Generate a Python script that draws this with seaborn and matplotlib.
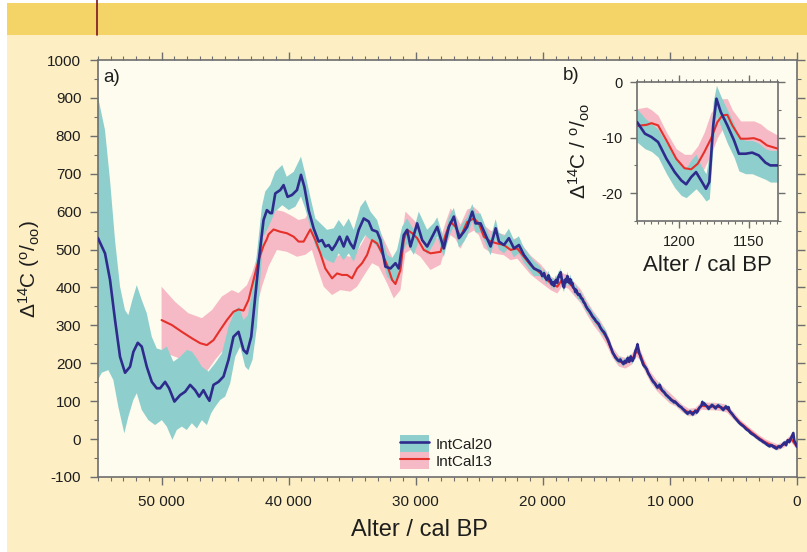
import numpy as np
import pandas as pd
import matplotlib
matplotlib.use("Agg")
import matplotlib.pyplot as plt
import seaborn as sns
from matplotlib.patches import Rectangle, Patch
from matplotlib.lines import Line2D
from matplotlib.ticker import MultipleLocator, FuncFormatter

# ================= panel a) =================
# IntCal20 curve, older part (age cal BP, Delta14C permil)
ic20_old_age = [55000, 54448, 54054, 53660, 53266, 52872, 52478, 52218, 51872, 51557,
                51163, 50768, 50374, 50114, 49720, 49405, 48987, 48538, 48144, 47750,
                47356, 47041, 46702, 46435, 46230, 45915, 45520, 45126, 44733, 44340,
                43945, 43550, 43287, 42944, 42628, 42313, 41974, 41710, 41446, 41312,
                41052, 40658, 40398, 40084, 39736, 39342, 39027, 38767, 38428, 38034,
                37640, 37372, 37112, 36852, 36584, 36324, 35986, 35670, 35402, 35142,
                34882, 34488, 34091, 33700, 33434, 33040, 32778, 32384, 31990, 31596,
                31336, 30942, 30676, 30414, 29888, 29494, 29100, 28570, 28310, 27790,
                27390, 27000, 26600, 26210, 25950, 25550, 25290, 24900, 24500, 24110,
                23710, 23450, 23060, 22670, 22270, 21880, 21490, 20700]
ic20_old_d14c = [530, 490, 420, 314, 217, 175, 191, 230, 254, 244,
                 191, 151, 134, 134, 151, 134, 99, 116, 125, 143,
                 129, 112, 129, 112, 101, 143, 151, 165, 209, 270,
                 283, 235, 226, 270, 376, 481, 578, 604, 596, 596,
                 648, 657, 670, 639, 644, 657, 697, 666, 604, 556,
                 521, 525, 508, 512, 499, 512, 534, 508, 534, 516,
                 503, 552, 582, 574, 552, 547, 525, 455, 450, 464,
                 450, 538, 552, 508, 569, 525, 508, 543, 560, 503,
                 560, 587, 530, 547, 560, 600, 569, 569, 538, 508,
                 556, 521, 512, 530, 503, 512, 486, 450]

# IntCal20 uncertainty band edges, older part
ic20_up_age = [55000, 54448, 54054, 53660, 53266, 52872, 52612, 52297, 51950, 51557,
               51163, 50768, 50374, 49980, 49586, 49066, 48538, 48010, 47616, 47222,
               46828, 46308, 45780, 45253, 44733, 44204, 43889, 43550, 43204, 42888,
               42494, 42100, 41840, 41446, 41052, 40500, 40150, 39600, 39027, 38700,
               38300, 37900, 37372, 36980, 36450, 36060, 35670, 35270, 34880, 34350,
               33960, 33560, 33040, 32650, 32250, 31860, 31470, 31070, 30680, 30150,
               29760, 29100, 28570, 28310, 27790, 27390, 27000, 26600, 26210, 25950,
               25550, 25290, 24900, 24500, 24110, 23710, 23450, 23060, 22670, 22270,
               21880, 21490, 20700]
ic20_up_val = [903, 815, 683, 525, 402, 340, 327, 367, 406, 367,
               332, 270, 239, 235, 244, 204, 217, 235, 231, 213,
               191, 178, 200, 226, 296, 340, 349, 314, 327, 385,
               490, 613, 653, 670, 705, 723, 692, 705, 745, 701,
               640, 582, 565, 552, 556, 578, 560, 582, 552, 613,
               631, 600, 578, 534, 486, 477, 499, 560, 582, 552,
               600, 552, 570, 585, 530, 585, 610, 555, 575, 585,
               620, 595, 595, 560, 530, 580, 545, 535, 555, 525,
               535, 505, 470]
ic20_dn_age = [55000, 54700, 54188, 53794, 53400, 52928, 52612, 52218, 51950, 51557,
               51036, 50508, 49980, 49586, 49146, 48798, 48404, 48010, 47616, 47222,
               46828, 46434, 46096, 45780, 45386, 44992, 44598, 44204, 43810, 43417,
               43156, 42841, 42494, 42234, 41974, 41580, 41052, 40500, 39990, 39470,
               39027, 38700, 38300, 37900, 37500, 36980, 36450, 36060, 35670, 35270,
               34880, 34350, 33960, 33560, 33040, 32650, 32250, 31860, 31470, 31070,
               30680, 30150, 29630, 29100, 28570, 28310, 27790, 27390, 27000, 26600,
               26210, 25950, 25550, 25290, 24900, 24500, 24110, 23710, 23450, 23060,
               22670, 22270, 21880, 21490, 20700]
ic20_dn_val = [156, 175, 182, 156, 85, 15, 59, 103, 121, 77,
               50, 37, 50, 33, -2, 24, 33, 24, 42, 28,
               50, 37, 68, 85, 103, 112, 147, 217, 244, 191,
               182, 209, 296, 420, 534, 560, 600, 617, 604, 613,
               640, 609, 560, 508, 486, 472, 464, 490, 472, 490,
               468, 516, 538, 525, 508, 481, 428, 415, 420, 490,
               516, 486, 534, 486, 515, 535, 480, 535, 560, 505,
               520, 535, 575, 545, 545, 515, 485, 530, 500, 490,
               505, 480, 490, 465, 430]

# IntCal20 curve, younger part
ic20_young_age = [20170, 20050, 19900, 19800, 19700, 19640, 19550, 19450, 19380, 19300,
                  19200, 19120, 19030, 18950, 18870, 18800, 18700, 18640, 18590, 18520,
                  18450, 18390, 18330, 18260, 18200, 18130, 18070, 17990, 17900, 17850,
                  17800, 17740, 17680, 17600, 17500, 17440, 17380, 17280, 17200, 17100,
                  17000, 16890, 16800, 16700, 16600, 16490, 16400, 16300, 16200, 16100,
                  16000, 15900, 15840, 15720, 15600, 15500, 15400, 15300, 15180, 15080,
                  15000, 14900, 14790, 14700, 14600, 14500, 14390, 14300, 14200, 14100,
                  14000, 13900, 13800, 13700, 13650, 13560, 13470, 13380, 13300, 13200,
                  13130, 13080, 13000, 12950, 12880, 12820, 12760, 12700, 12620, 12550,
                  12480, 12420, 12350, 12290, 12200, 12100, 12000, 11900, 11820, 11760,
                  11680, 11600, 11500, 11440, 11370, 11280, 11200, 11100, 10980, 10900,
                  10800, 10700, 10600, 10520, 10450, 10370, 10300, 10200, 10100, 10000,
                  9930, 9850, 9750, 9680, 9600, 9500, 9400, 9300, 9200, 9100,
                  9000, 8900, 8800, 8700, 8610, 8520, 8400, 8300, 8200, 8100,
                  8000, 7900, 7820, 7730, 7650, 7580, 7500, 7450, 7400, 7350,
                  7300, 7200, 7100, 7020, 6950, 6870, 6770, 6700, 6600, 6500,
                  6400, 6300, 6200, 6100, 5990, 5900, 5800, 5700, 5600, 5500,
                  5450, 5380, 5330, 5250, 5150, 5050, 4930, 4850, 4750, 4650,
                  4550, 4450, 4350, 4250, 4150, 4050, 3950, 3850, 3750, 3650,
                  3550, 3450, 3360, 3250, 3150, 3050, 2950, 2850, 2750, 2650,
                  2570, 2450, 2350, 2250, 2150, 2050, 1950, 1850, 1780, 1700,
                  1600, 1500, 1400, 1330, 1260, 1180, 1100, 1020, 950, 900,
                  850, 790, 730, 660, 600, 520, 450, 390, 340, 290,
                  240, 200, 150, 100, 50, 0]
ic20_young_d14c = [442, 430, 438, 426, 420, 424, 432, 418, 420, 408,
                   414, 404, 416, 420, 412, 426, 434, 428, 440, 424,
                   412, 404, 400, 416, 422, 414, 430, 418, 412, 422,
                   418, 408, 412, 400, 396, 388, 394, 384, 380, 382,
                   372, 370, 362, 358, 350, 344, 340, 336, 330, 324,
                   320, 316, 312, 308, 304, 296, 290, 286, 282, 276,
                   270, 264, 255, 246, 238, 228, 222, 216, 212, 208,
                   206, 210, 204, 200, 198, 206, 202, 210, 214, 204,
                   212, 218, 210, 206, 212, 214, 226, 234, 240, 250,
                   238, 228, 222, 214, 206, 196, 192, 188, 184, 178,
                   172, 168, 162, 158, 154, 150, 148, 142, 136, 140,
                   143, 134, 128, 126, 124, 120, 116, 114, 110, 108,
                   104, 102, 100, 97, 99, 95, 92, 88, 86, 84,
                   80, 77, 73, 70, 67, 70, 73, 68, 65, 70,
                   75, 70, 73, 80, 84, 86, 90, 98, 95, 92,
                   94, 90, 87, 83, 80, 84, 86, 90, 88, 84,
                   81, 86, 89, 86, 84, 80, 77, 82, 86, 82,
                   80, 84, 76, 72, 68, 64, 58, 55, 51, 47,
                   43, 40, 37, 35, 32, 28, 25, 23, 20, 16,
                   14, 12, 10, 7, 4, 2, -1, -3, -5, -8,
                   -9, -12, -15, -17, -19, -16, -17, -21, -20, -24,
                   -25, -20, -19, -22, -20, -16, -14, -10, -9, -14,
                   -16, -8, -3, -5, -8, -1, 4, 8, 12, 16,
                   2, -6, -8, -12, -16, -20]
# half width of the IntCal20 band in the younger part, per age range
ic20_sig_from = [15000, 10000, 5000, 0]
ic20_sig_val = [12, 8, 6, 5]

# IntCal13 curve
ic13_old_age = [50000, 49192, 48404, 47616, 46962, 46434, 45915, 45386, 44858, 44340,
                43945, 43550, 43156, 42762, 42368, 41974, 41710, 41580, 41186, 40658,
                40134, 39608, 39216, 38822, 38294, 37900, 37506, 37112, 36584, 36190,
                35796, 35402, 35010, 34616, 34222, 33826, 33434, 33040, 32646, 32252,
                31857, 31596, 31202, 30942, 30676, 30282, 29888, 29364, 28838, 28050,
                27660, 27260, 26870, 26470, 25950, 25420, 25030, 24640, 24110, 23580,
                23060, 22530, 22010, 21490, 20960, 20170]
ic13_old_d14c = [314, 301, 283, 266, 253, 248, 261, 288, 314, 336,
                 342, 339, 367, 420, 472, 510, 528, 540, 553, 547,
                 543, 534, 521, 521, 553, 525, 490, 450, 424, 437,
                 433, 433, 424, 450, 464, 486, 525, 516, 490, 459,
                 420, 409, 446, 525, 552, 543, 530, 499, 490, 494,
                 538, 573, 560, 534, 573, 582, 569, 534, 521, 516,
                 512, 499, 503, 481, 459, 437]
ic13_up_age = [50000, 48932, 47884, 46828, 46040, 45253, 44464, 43945, 43283, 42888,
               42368, 41840, 41580, 40920, 40400, 39870, 39216, 38700, 38300, 37770,
               37240, 36584, 35930, 35142, 34616, 34091, 33434, 32910, 32250, 31730,
               31200, 30810, 30414, 29630, 28838, 28050, 27660, 27260, 26870, 26470,
               25950, 25420, 25030, 24640, 24110, 23580, 23060, 22530, 22010, 21490,
               20960, 20170]
ic13_up_val = [402, 362, 332, 319, 340, 376, 393, 385, 406, 437,
               490, 550, 580, 604, 600, 591, 578, 582, 604, 560,
               508, 477, 486, 481, 494, 525, 574, 556, 508, 472,
               508, 600, 587, 560, 534, 528, 570, 608, 592, 566,
               605, 612, 600, 564, 550, 544, 540, 526, 530, 507,
               484, 461]
ic13_dn_age = [50000, 48932, 47884, 47096, 46434, 45780, 45126, 44464, 43676, 43156,
               42628, 42100, 41580, 40920, 40134, 39342, 38700, 38170, 37770, 37240,
               36584, 35930, 35142, 34616, 33960, 33434, 32910, 32250, 31730, 31200,
               30810, 30414, 29630, 28838, 28050, 27660, 27260, 26870, 26470, 25950,
               25420, 25030, 24640, 24110, 23580, 23060, 22530, 22010, 21490, 20960,
               20170]
ic13_dn_val = [231, 217, 204, 182, 178, 209, 235, 253, 266, 279,
               332, 402, 455, 499, 494, 481, 486, 499, 455, 402,
               380, 393, 389, 402, 437, 464, 455, 411, 371, 393,
               490, 499, 481, 446, 460, 505, 538, 528, 502, 540,
               550, 538, 504, 492, 488, 485, 472, 476, 455, 434,
               413]
ic13_young_age = [19380, 18860, 18500, 18000, 17500, 17000, 16500, 16000, 15500, 15000,
                  14500, 14000, 13500, 13000, 12600, 12300, 12000, 11500, 11000, 10500,
                  10000, 9500, 9000, 8500, 8000, 7500, 7000, 6500, 6000, 5500,
                  5000, 4500, 4000, 3500, 3000, 2500, 2000, 1500, 1000, 500, 0]
ic13_young_d14c = [411, 402, 420, 415, 395, 376, 345, 318, 296, 268,
                   228, 205, 200, 210, 232, 220, 195, 162, 140, 124,
                   108, 96, 80, 70, 72, 88, 86, 86, 84, 80,
                   62, 44, 30, 16, 3, -8, -16, -22, -14, 2, -20]
ic13_sig_from = [15000, 10000, 5000, 0]
ic13_sig_val = [18, 14, 10, 8]

# ================= panel b) =================
b20_age = [1230, 1224.3, 1219.6, 1214.9, 1208.9, 1203, 1198.3, 1194.8, 1191.2, 1187.7,
           1184.1, 1180.6, 1178.2, 1175.4, 1173.1, 1170, 1165.3, 1160.5, 1157, 1152.2,
           1147.5, 1142.8, 1138, 1134.5, 1129]
b20_d14c = [-7.2, -9.3, -9.9, -10.8, -13.8, -16.2, -17.7, -18.4, -17.1, -16.2,
            -17.7, -19.2, -18.0, -7.8, -3.0, -5.4, -7.8, -10.5, -12.9, -12.9,
            -12.7, -13.2, -14.5, -15.0, -15.0]
b20_lo = [-10.8, -12.0, -12.5, -13.5, -16.5, -19.0, -20.4, -20.8, -20.0, -19.2,
          -20.2, -21.4, -21.0, -11.0, -6.0, -8.0, -11.0, -13.5, -16.0, -16.5,
          -16.5, -17.0, -17.5, -18.0, -18.0]
b20_hi = [-4.8, -6.5, -7.5, -8.5, -11.0, -13.5, -15.0, -15.5, -14.0, -13.0,
          -15.0, -16.5, -13.0, -3.5, -0.6, -2.5, -5.0, -7.5, -10.0, -10.5,
          -10.5, -11.0, -12.0, -12.3, -12.3]
b13_age = [1230, 1223.1, 1219.6, 1214.9, 1208.9, 1201.9, 1196, 1191.2, 1186.5, 1181.8,
           1177, 1172.4, 1168.8, 1165.3, 1161.7, 1155.8, 1151.1, 1146.3, 1141.6, 1136.9,
           1129]
b13_d14c = [-7.9, -7.7, -7.4, -7.8, -10.5, -13.8, -15.5, -15.7, -14.7, -12.6,
            -10.2, -7.2, -6.0, -5.9, -7.8, -10.2, -10.2, -10.1, -10.5, -11.4,
            -12.0]
b13_lo = [-10.8, -10.5, -10.0, -10.5, -13.0, -15.5, -17.5, -18.0, -17.5, -15.5,
          -13.0, -10.0, -8.5, -8.5, -10.5, -13.0, -13.0, -13.0, -13.5, -14.0,
          -14.5]
b13_hi = [-4.8, -4.5, -5.0, -6.0, -9.0, -12.0, -13.0, -13.0, -11.5, -9.0,
          -5.5, -4.0, -3.0, -3.0, -5.0, -7.0, -7.0, -7.0, -7.5, -8.5,
          -9.6]

# ---- colours ----
teal = "#8ecfcd"
pink = "#f6bac6"
navy = "#2e2b8c"
red = "#e6302a"
cream = "#fdefc3"
plotbg = "#fefcee"
banner = "#f5d467"
spine_c = "#6e6e6e"
txt = "#1e1e1e"


def band_sigma(ages, sig_from, sig_val):
    ages = np.asarray(ages)
    out = np.full(len(ages), float(sig_val[-1]))
    for lim, val in zip(sig_from[::-1], sig_val[::-1]):
        out[ages >= lim] = val
    return out


def draw_band(ax, up_age, up_val, dn_age, dn_val, color, z):
    xs = np.r_[up_age, np.asarray(dn_age)[::-1]]
    ys = np.r_[up_val, np.asarray(dn_val)[::-1]]
    ax.fill(xs, ys, color=color, lw=0, zorder=z)


sns.set_theme(style="ticks")
plt.rcParams["font.family"] = ["Liberation Sans", "DejaVu Sans"]
plt.rcParams["mathtext.fontset"] = "custom"
plt.rcParams["mathtext.rm"] = "Liberation Sans"
plt.rcParams["mathtext.it"] = "Liberation Sans:italic"
plt.rcParams["axes.unicode_minus"] = False
plt.rcParams["text.color"] = txt
plt.rcParams["axes.labelcolor"] = txt
plt.rcParams["xtick.color"] = spine_c
plt.rcParams["ytick.color"] = spine_c
plt.rcParams["xtick.labelcolor"] = txt
plt.rcParams["ytick.labelcolor"] = txt

W, H = 807, 552
fig = plt.figure(figsize=(W / 100, H / 100), dpi=100, facecolor="white")

# page background, banner and the red rule
fig.patches.append(Rectangle((7 / W, 0), 1 - 7 / W, 1 - 35 / H, transform=fig.transFigure,
                             facecolor=cream, edgecolor="none", zorder=-10))
fig.patches.append(Rectangle((7 / W, 1 - 35 / H), 1 - 7 / W, 32 / H, transform=fig.transFigure,
                             facecolor=banner, edgecolor="none", zorder=-10))
fig.lines.append(Line2D([97 / W, 97 / W], [1 - 35 / H, 1], transform=fig.transFigure,
                        color="#7a1424", lw=1.2, zorder=-5))

# ---- main panel a) ----
ax = fig.add_axes([98 / W, 1 - 477 / H, 699 / W, 417 / H])
ax.set_facecolor(plotbg)

s20 = band_sigma(ic20_young_age, ic20_sig_from, ic20_sig_val)
s13 = band_sigma(ic13_young_age, ic13_sig_from, ic13_sig_val)
y20 = np.asarray(ic20_young_d14c, float)
y13 = np.asarray(ic13_young_d14c, float)

draw_band(ax, ic13_up_age + ic13_young_age, np.r_[ic13_up_val, y13 + s13],
          ic13_dn_age + ic13_young_age, np.r_[ic13_dn_val, y13 - s13], pink, 1)
draw_band(ax, ic20_up_age + ic20_young_age, np.r_[ic20_up_val, y20 + s20],
          ic20_dn_age + ic20_young_age, np.r_[ic20_dn_val, y20 - s20], teal, 2)

df20 = pd.DataFrame({"age": ic20_old_age + ic20_young_age,
                     "d14c": ic20_old_d14c + ic20_young_d14c})
df13 = pd.DataFrame({"age": ic13_old_age + ic13_young_age,
                     "d14c": ic13_old_d14c + ic13_young_d14c})
sns.lineplot(data=df13, x="age", y="d14c", ax=ax, color=red, lw=1.5, sort=False,
             estimator=None, zorder=3)
sns.lineplot(data=df20, x="age", y="d14c", ax=ax, color=navy, lw=1.9, sort=False,
             estimator=None, zorder=4)

ax.set_xlim(55000, 0)
ax.set_ylim(-100, 1000)
ax.xaxis.set_major_locator(MultipleLocator(10000))
ax.xaxis.set_minor_locator(MultipleLocator(1000))
ax.yaxis.set_major_locator(MultipleLocator(100))
ax.yaxis.set_minor_locator(MultipleLocator(50))
ax.xaxis.set_major_formatter(FuncFormatter(lambda v, p: f"{int(round(v)):,}".replace(",", " ")))
ax.tick_params(which="both", direction="out", top=True, right=True, labelsize=11)
ax.tick_params(which="major", length=6, width=1.0)
ax.tick_params(which="minor", length=3, width=0.8)
ax.tick_params(axis="x", which="major", pad=7)
ax.tick_params(axis="y", which="major", pad=6)
for s in ax.spines.values():
    s.set_color(spine_c)
    s.set_linewidth(1.2)

ax.set_xlabel("Alter / cal BP", fontsize=17)
ax.xaxis.set_label_coords(0.46, -0.1)
ax.set_ylabel("Δ$^{\\mathrm{14}}$C ($^{\\mathrm{o}}$/$_{\\mathrm{oo}}$)", fontsize=15)
ax.yaxis.set_label_coords(-0.08, 0.5)

fig.text(103 / W, 1 - 78 / H, "a)", fontsize=13.5, va="center", ha="left")

handles = [(Patch(facecolor=teal, edgecolor="none"), Line2D([], [], color=navy, lw=1.9)),
           (Patch(facecolor=pink, edgecolor="none"), Line2D([], [], color=red, lw=1.5))]
fig.legend(handles, ["IntCal20", "IntCal13"], loc="upper left",
           bbox_to_anchor=(400 / W, 1 - 435 / H), bbox_transform=fig.transFigure,
           frameon=False, borderpad=0, borderaxespad=0, handlelength=1.9,
           handleheight=1.35, labelspacing=0.0, handletextpad=0.4, fontsize=11)

# ---- inset b) ----
axb = fig.add_axes([637 / W, 1 - 221 / H, 141 / W, 139 / H])
axb.set_facecolor(plotbg)
dfb20 = pd.DataFrame({"age": b20_age, "d14c": b20_d14c, "lo": b20_lo, "hi": b20_hi})
dfb13 = pd.DataFrame({"age": b13_age, "d14c": b13_d14c, "lo": b13_lo, "hi": b13_hi})
axb.fill_between(dfb13["age"], dfb13["lo"], dfb13["hi"], color=pink, lw=0, zorder=1)
axb.fill_between(dfb20["age"], dfb20["lo"], dfb20["hi"], color=teal, lw=0, zorder=2)
sns.lineplot(data=dfb13, x="age", y="d14c", ax=axb, color=red, lw=1.5, sort=False,
             estimator=None, zorder=3)
sns.lineplot(data=dfb20, x="age", y="d14c", ax=axb, color=navy, lw=1.9, sort=False,
             estimator=None, zorder=4)
axb.set_xlim(1230, 1129)
axb.set_ylim(-25, 0)
axb.xaxis.set_major_locator(MultipleLocator(50))
axb.xaxis.set_minor_locator(MultipleLocator(5))
axb.yaxis.set_major_locator(MultipleLocator(10))
axb.yaxis.set_minor_locator(MultipleLocator(5))
axb.tick_params(which="both", direction="out", top=True, right=True, labelsize=10.5)
axb.tick_params(which="major", length=5, width=1.0)
axb.tick_params(which="minor", length=2.5, width=0.8)
axb.tick_params(axis="x", which="major", pad=5)
axb.tick_params(axis="y", which="major", pad=5)
for s in axb.spines.values():
    s.set_color(spine_c)
    s.set_linewidth(1.2)
axb.set_xlabel("Alter / cal BP", fontsize=16)
axb.xaxis.set_label_coords(0.5, -0.245)
axb.set_ylabel("Δ$^{\\mathrm{14}}$C / $^{\\mathrm{o}}$/$_{\\mathrm{oo}}$", fontsize=15)
axb.yaxis.set_label_coords(-0.32, 0.5)
fig.text(563 / W, 1 - 75 / H, "b)", fontsize=13.5, va="center", ha="left")

fig.savefig("out.png", dpi=100, facecolor=fig.get_facecolor())
